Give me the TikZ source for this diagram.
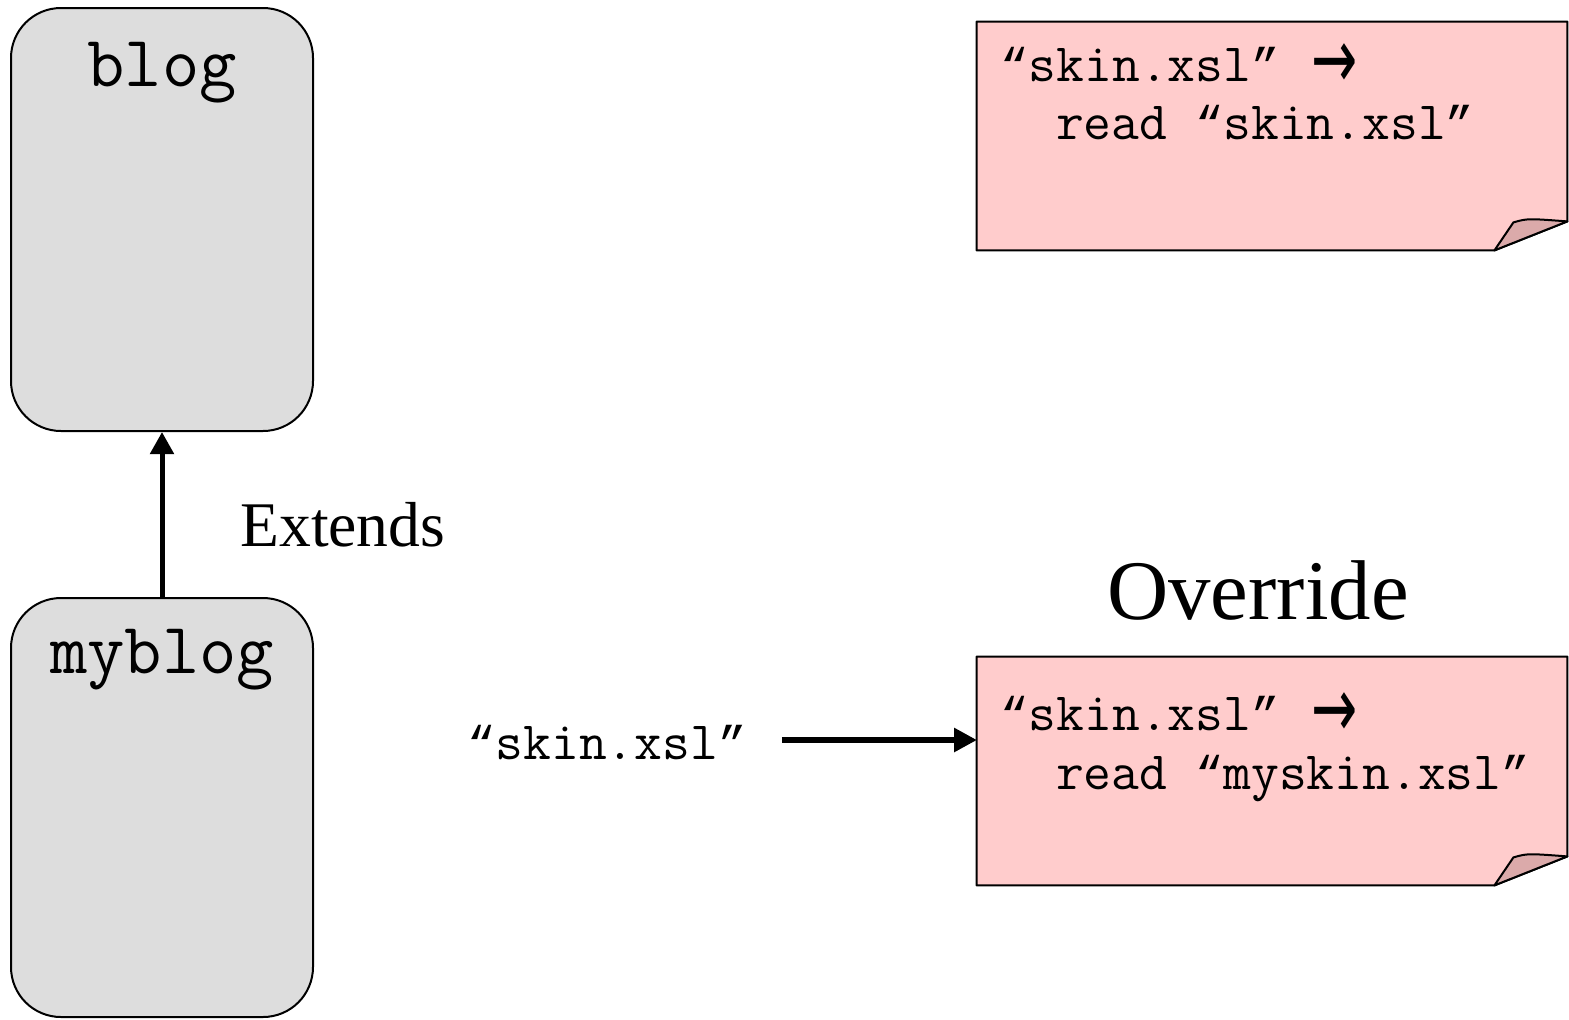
\documentclass[tikz,border=0pt]{standalone}
\usepackage{fontspec}
\setmainfont{Liberation Serif}
\newfontfamily\arrowfont{DejaVu Sans}
\newfontfamily\quotefont[Scale=0.875]{Liberation Mono}
\usepackage{xcolor}
\usepackage{graphicx}
\usepackage{tikz}
\usetikzlibrary{calc,arrows.meta}
\definecolor{pkggray}{HTML}{DDDDDD}
\definecolor{notepink}{HTML}{FFCCCC}
\definecolor{foldpink}{HTML}{DBAAAA}
\tikzset{
  pkgbox/.style={draw=black, fill=pkggray, line width=1pt, rounded corners=25pt,
    minimum width=151pt, inner sep=0pt},
  notebox/.style={minimum width=295pt, minimum height=114pt, inner sep=0pt},
  notefill/.style={draw=black, fill=notepink, line width=1pt, line join=round},
  foldfill/.style={draw=black, fill=foldpink, line width=1pt, line join=round},
  pkgname/.style={font=\fontsize{36.2}{40}\selectfont\ttfamily, anchor=base, inner sep=0pt},
  notetext/.style={font=\fontsize{27}{30}\selectfont\ttfamily, anchor=base west, inner sep=0pt},
  lab/.style={font=\fontsize{31.8}{36}\selectfont, inner sep=0pt},
  biglab/.style={font=\fontsize{42.4}{48}\selectfont, inner sep=0pt},
  flow/.style={line width=2.5pt, -{Triangle[length=11pt,width=11.5pt]}},
  flowthick/.style={line width=3pt, -{Triangle[length=11.5pt,width=11.5pt]}},
}
% outline of a note with a turned-down corner
\newcommand{\foldnote}[1]{%
  \draw[notefill] (#1.north west) -- (#1.north east) -- ([yshift=14.5pt]#1.south east)
    -- ([xshift=-36.5pt]#1.south east) -- (#1.south west) -- cycle;
  \draw[foldfill] ([xshift=-36.5pt]#1.south east) -- ([xshift=-27pt,yshift=14pt]#1.south east)
    .. controls ([xshift=-20pt,yshift=16pt]#1.south east) .. ([yshift=14.5pt]#1.south east) -- cycle;}
\newcommand{\rarr}{\kern2pt\raisebox{-3.5pt}[15pt][0pt]{\scalebox{1.2}[1.85]{\fontsize{23}{28}\arrowfont →}}}
\newcommand{\qname}[1]{{\quotefont“}#1{\quotefont”}}

\begin{document}
\begin{tikzpicture}[x=0.5pt, y=-0.5pt]
  \useasboundingbox (0,0) rectangle (1569,1019);

  % packages
  \node[pkgbox, minimum height=211.5pt] (blog) at (162,219.5) {};
  \node[pkgbox, minimum height=209.5pt] (myblog) at (162,807.5) {};
  \node[pkgname] (blogname) at (162,86) {blog};
  \node[pkgname] (myblogname) at (162,673) {myblog};

  \draw[flow] (myblog.north) -- (blog.south);
  \node[lab, anchor=west] (extends) at (240,525) {Extends};

  % notes
  \node[notebox] (base) at (1272,136) {};
  \node[notebox] (override) at (1272,771) {};
  \foldnote{base}
  \foldnote{override}

  \node[notetext] (baseA) at (1000,81) {\qname{skin.xsl} \rarr};
  \node[notetext] (baseB) at (1000,139) {\hphantom{rr}read \qname{skin.xsl}};
  \node[notetext] (overA) at (1000,730) {\qname{skin.xsl} \rarr};
  \node[notetext] (overB) at (1000,789) {\hphantom{rr}read \qname{myskin.xsl}};

  \node[biglab] (overtitle) at (1258,590) {Override};

  % request for skin.xsl
  \node[notetext] (request) at (467,759) {\qname{skin.xsl}};
  \coordinate (inlet) at (977,740);
  \draw[flowthick] ([xshift=17.5pt]request.east |- inlet) -- (inlet);
\end{tikzpicture}
\end{document}
